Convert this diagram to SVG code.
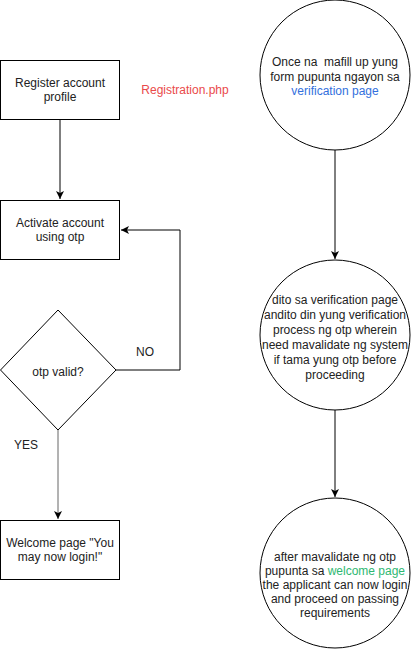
<svg xmlns="http://www.w3.org/2000/svg" width="411" height="651" viewBox="0 0 411 651">
<defs>
<marker id="arr" viewBox="0 0 10 10" refX="10" refY="5" markerWidth="8" markerHeight="8" markerUnits="userSpaceOnUse" orient="auto">
<path d="M0,0 L10,5 L0,10 L2.5,5 Z" fill="#000"/>
</marker>
</defs>
<style>
.shape{fill:#fff;stroke:#000;stroke-width:1}
.t{font-family:"Liberation Sans",Arial,sans-serif;font-size:12px;fill:#222;text-anchor:middle}
.edge{fill:none;stroke:#000;stroke-width:1}
</style>
<rect width="411" height="651" fill="#fff"/>
<g id="connectors">
<path class="edge" d="M60,120 L60,199" marker-end="url(#arr)"/>
<path class="edge" d="M116,370 L180,370 L180,230 L121,230" marker-end="url(#arr)"/>
<path class="edge" d="M58,430 L58,519" style="stroke:#666" marker-end="url(#arr)"/>
<path class="edge" d="M335,150 L335,259" marker-end="url(#arr)"/>
<path class="edge" d="M335,410 L335,497" marker-end="url(#arr)"/>
</g>
<g id="register">
<rect class="shape" x="0.5" y="60.5" width="119" height="59"/>
<text class="t" x="60" y="87">Register account</text>
<text class="t" x="60" y="101">profile</text>
</g>
<g id="registration-label">
<text class="t" x="185" y="94" style="fill:#EA4A4A">Registration.php</text>
</g>
<g id="activate">
<rect class="shape" x="0.5" y="200.5" width="119" height="59"/>
<text class="t" x="60" y="227">Activate account</text>
<text class="t" x="60" y="241">using otp</text>
</g>
<g id="otp-valid">
<polygon class="shape" points="58,310 116,370 58,430 0.5,370"/>
<text class="t" x="58" y="376">otp valid?</text>
</g>
<g id="labels">
<text class="t" x="145" y="356">NO</text>
<text class="t" x="26" y="449">YES</text>
</g>
<g id="welcome">
<rect class="shape" x="0.5" y="520.5" width="119" height="59"/>
<text class="t" x="60" y="547">Welcome page "You</text>
<text class="t" x="60" y="561">may now login!"</text>
</g>
<g id="circle1">
<circle class="shape" cx="335" cy="75" r="75"/>
<text class="t" x="335" y="66">Once na &#160;mafill up yung</text>
<text class="t" x="335" y="81">form pupunta ngayon sa</text>
<text class="t" x="335" y="95" style="fill:#3370DD">verification page</text>
</g>
<g id="circle2">
<circle class="shape" cx="335" cy="335" r="75"/>
<text class="t" x="335" y="304">dito sa verification page</text>
<text class="t" x="335" y="319">andito din yung verification</text>
<text class="t" x="335" y="334">process ng otp wherein</text>
<text class="t" x="335" y="349">need mavalidate ng system</text>
<text class="t" x="335" y="364">if tama yung otp before</text>
<text class="t" x="335" y="379">proceeding</text>
</g>
<g id="circle3">
<circle class="shape" cx="335" cy="573" r="75"/>
<text class="t" x="335" y="561">after mavalidate ng otp</text>
<text class="t" x="335" y="575">pupunta sa <tspan style="fill:#2EB872">welcome page</tspan></text>
<text class="t" x="335" y="589">the applicant can now login</text>
<text class="t" x="335" y="603">and proceed on passing</text>
<text class="t" x="335" y="617">requirements</text>
</g>
</svg>
